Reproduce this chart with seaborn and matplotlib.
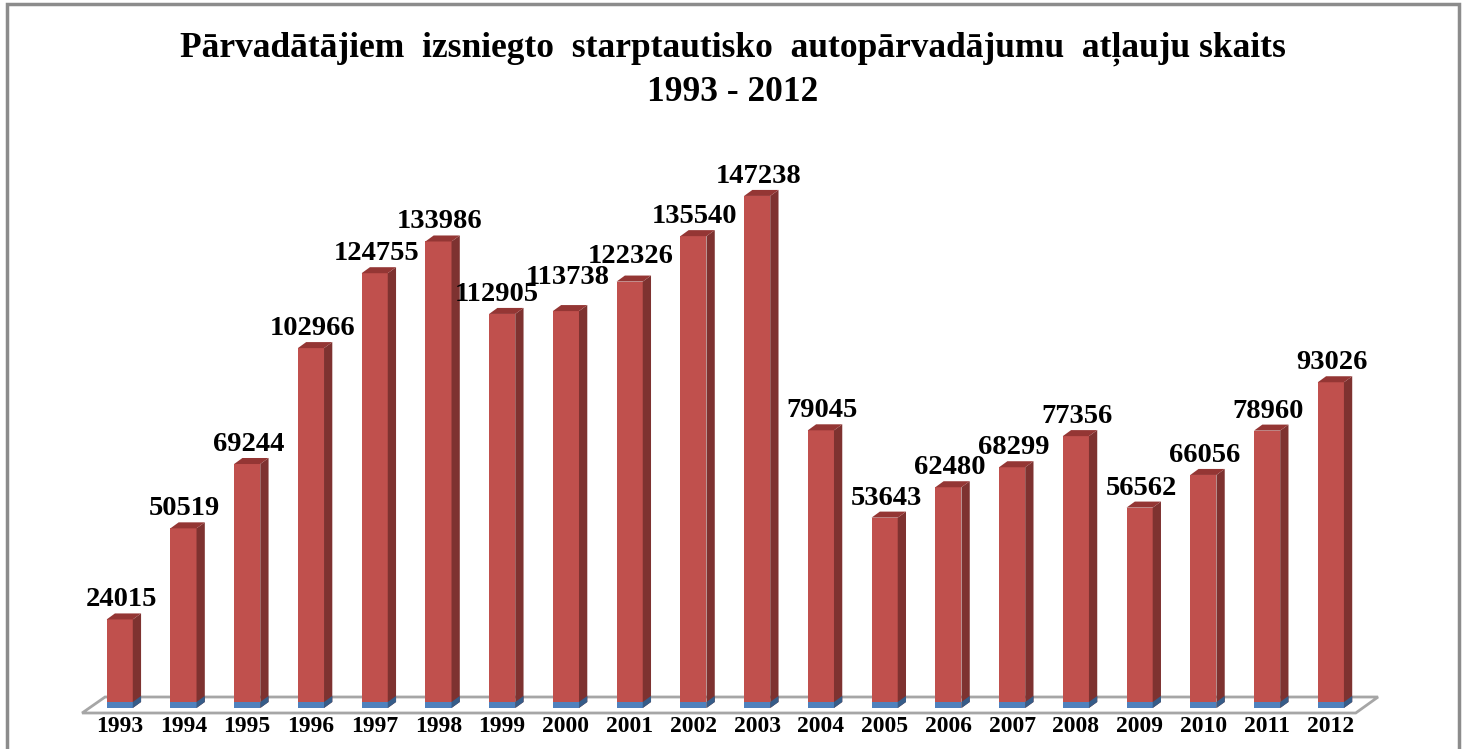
import numpy as np
import seaborn as sns
import matplotlib.pyplot as plt
from matplotlib.patches import Polygon, Rectangle

years = ['1993', '1994', '1995', '1996', '1997', '1998', '1999', '2000', '2001', '2002',
         '2003', '2004', '2005', '2006', '2007', '2008', '2009', '2010', '2011', '2012']
permits = [24015, 50519, 69244, 102966, 124755, 133986, 112905, 113738, 122326, 135540,
           147238, 79045, 53643, 62480, 68299, 77356, 56562, 66056, 78960, 93026]
# thin blue series under each bar
base = [1750, 1750, 1750, 1750, 1750, 1750, 1750, 1750, 1750, 1750,
        1750, 1750, 1750, 1750, 1750, 1750, 1750, 1750, 1750, 1750]

title_1 = 'Pārvadātājiem  izsniegto  starptautisko  autopārvadājumu  atļauju skaits'
title_2 = '1993 - 2012'

red, red_side, red_top = '#C0504D', '#7E3230', '#943634'
blue, blue_side = '#4F81BD', '#365C88'

sns.set_style('white')
plt.rcParams['font.family'] = ['Liberation Serif', 'DejaVu Serif']
plt.rcParams['font.weight'] = 'bold'
plt.rcParams['text.color'] = 'black'

fig = plt.figure(figsize=(14.66, 7.49), dpi=100)
ax = fig.add_axes([0, 0, 1, 1])

total = [b + p for b, p in zip(base, permits)]
sns.barplot(x=years, y=total, color=red, saturation=1, width=0.41, linewidth=0, ax=ax, zorder=3)
n_red = len(ax.patches)
sns.barplot(x=years, y=base, color=blue, saturation=1, width=0.41, linewidth=0, ax=ax, zorder=4)
red_bars = ax.patches[:n_red]
blue_bars = ax.patches[n_red:]

ax.set_xlim(-1.878, 21.12)
ax.set_ylim(-11929, 206000)
ax.axis('off')

# pseudo 3D depth (data units)
dx, dy = 0.13, 1750


def add_depth(bars, side_c, top_c, z):
    for b in bars:
        x0, y0, w, h = b.get_x(), b.get_y(), b.get_width(), b.get_height()
        x1, y1 = x0 + w, y0 + h
        ax.add_patch(Polygon([(x1, y0), (x1 + dx, y0 + dy), (x1 + dx, y1 + dy), (x1, y1)],
                             closed=True, fc=side_c, ec='none', zorder=z))
        if top_c:
            ax.add_patch(Polygon([(x0, y1), (x0 + dx, y1 + dy), (x1 + dx, y1 + dy), (x1, y1)],
                                 closed=True, fc=top_c, ec='none', zorder=z))


add_depth(red_bars, red_side, red_top, 3)
add_depth(blue_bars, blue_side, None, 4)

# floor
n = len(years)
floor = Polygon([(-0.59, -1455), (n - 0.61, -1455), (n - 0.26, 3200), (-0.23, 3200)],
                closed=True, fc='white', ec='#A6A6A6', lw=2, zorder=1)
ax.add_patch(floor)

# crowded labels are nudged apart, as in the original
nudge = {'1999': (-0.1, 0), '2000': (0, 4100), '2001': (0, 1600)}
for b, y, v in zip(red_bars, years, permits):
    ox, oy = nudge.get(y, (0, 0))
    cx = b.get_x() + b.get_width() / 2 + dx / 6 + ox
    ax.text(cx, b.get_y() + b.get_height() + dy + 2030 + oy, str(v), ha='center', va='baseline',
            fontsize=20.5, fontweight='bold', zorder=6)

for i, y in enumerate(years):
    ax.text(i, -2200, y, ha='center', va='top', fontsize=17, fontweight='bold', zorder=6)

fig.text(0.5, 1 - 57 / 749, title_1, ha='center', va='baseline', fontsize=25.5, fontweight='bold')
fig.text(0.5, 1 - 101 / 749, title_2, ha='center', va='baseline', fontsize=25.5, fontweight='bold')

fig.patches.append(Rectangle((7 / 1466, -0.05), 1452 / 1466, 1.05 - 4 / 749,
                             transform=fig.transFigure, fill=False, ec='#8C8C8C', lw=2.5))

fig.savefig('out.png', dpi=100)
